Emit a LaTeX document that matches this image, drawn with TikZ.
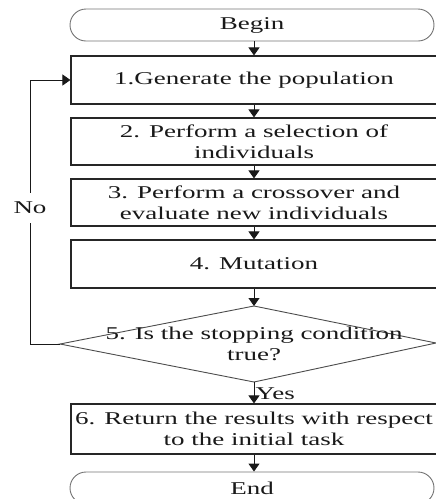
\documentclass[tikz,border=0pt]{standalone}
\usepackage{fontspec}
\setmainfont{Liberation Serif}[FakeStretch=1.5]
\usetikzlibrary{arrows.meta}
\begin{document}
\begin{tikzpicture}[x=1pt,y=-1pt,
  txt/.style={font=\fontsize{18}{20.5}\selectfont, text=black!90},
  box/.style={txt,draw=black!85,line width=1.1pt,minimum width=366pt,inner sep=1pt,align=center},
  term/.style={txt,draw=black!55,line width=0.9pt,rounded corners=16pt,minimum width=364pt,minimum height=32pt,inner sep=1pt},
  arr/.style={draw=black!90,line width=1pt,-{Triangle[width=11pt,length=8pt]}},
  lbl/.style={txt,inner sep=1pt}]
\useasboundingbox (0,0) rectangle (436,499);
\node[term] (begin) at (252,25) {Begin};
\node[box,minimum height=48pt] (b1) at (254,80) {1.Generate the population};
\node[box,minimum height=47pt] (b2) at (254,141.5) {2. Perform a selection of\\individuals};
\node[box,minimum height=47pt] (b3) at (254,202.5) {3. Perform a crossover and\\evaluate new individuals};
\node[box,minimum height=48pt] (b4) at (254,264) {4. Mutation};
\coordinate (dt) at (254,306);
\coordinate (dr) at (436,343);
\coordinate (db) at (254,382);
\coordinate (dl) at (60,344);
\draw[draw=black!70,line width=0.9pt] (dt) -- (dr) -- (db) -- (dl) -- cycle;
\node[lbl,align=center] (d5) at (254,344) {5. Is the stopping condition\\true?};
\node[box,minimum height=50pt] (b6) at (254,429) {6. Return the results with respect\\to the initial task};
\node[term] (end) at (252,488) {End};
\draw[arr] (b1.north |- begin.south) -- (b1.north);
\draw[arr] (b1) -- (b2);
\draw[arr] (b2) -- (b3);
\draw[arr] (b3) -- (b4);
\draw[arr] (b4.south) -- (dt);
\draw[arr] (db) -- node[lbl,anchor=west,pos=0.55] (yes) {Yes} (b6.north);
\draw[arr] (b6.south) -- (b6.south |- end.north);
\draw[arr] (dl) -- (30,344) -- node[lbl,fill=white,minimum height=30pt,pos=0.515] (no) {No} (30,80) -- (b1.west);
\end{tikzpicture}
\end{document}
